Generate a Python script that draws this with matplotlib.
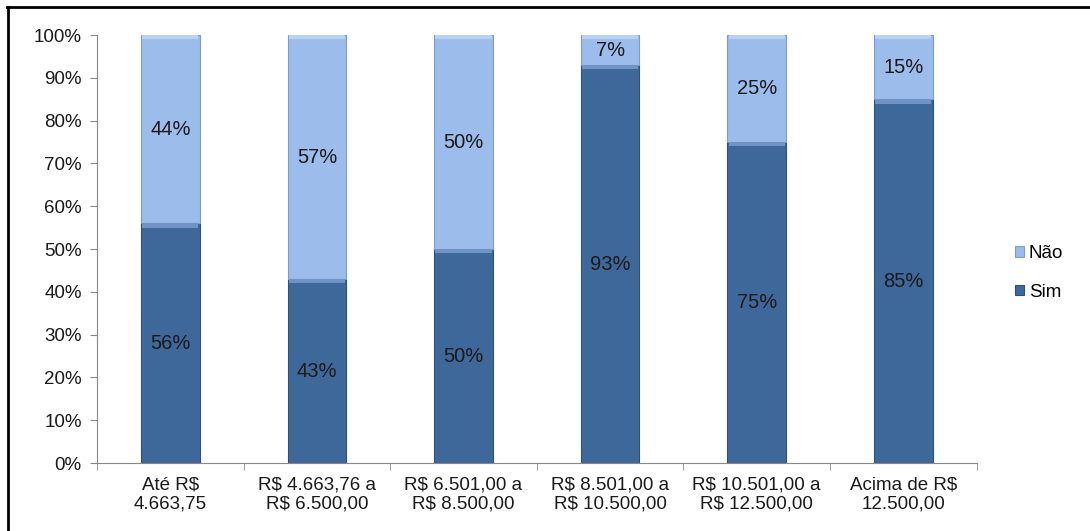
import matplotlib.pyplot as plt
from matplotlib.lines import Line2D
from matplotlib.ticker import FuncFormatter, FixedLocator

plt.rcParams['font.family'] = ['Liberation Sans', 'DejaVu Sans']

faixas = ['Até R$\n4.663,75', 'R$ 4.663,76 a\nR$ 6.500,00', 'R$ 6.501,00 a\nR$ 8.500,00',
          'R$ 8.501,00 a\nR$ 10.500,00', 'R$ 10.501,00 a\nR$ 12.500,00', 'Acima de R$\n12.500,00']
sim = [56, 43, 50, 93, 75, 85]
nao = [44, 57, 50, 7, 25, 15]

cor_sim = '#3F689A'
cor_nao = '#9CBDEB'

fig = plt.figure(figsize=(10.9, 5.31), dpi=100)
ax = fig.add_axes([0.089, 0.128, 0.807, 0.806])

x = range(len(faixas))
w = 0.4
b1 = ax.bar(x, sim, w, color=cor_sim, edgecolor='#2E4F78', linewidth=0.8, label='Sim')
b2 = ax.bar(x, nao, w, bottom=sim, color=cor_nao, edgecolor='#7C9CC8', linewidth=0.8, label='Não')

# faixa clara no topo de cada segmento (efeito chanfrado)
for i in x:
    ax.bar(i, 1.0, w * 0.96, bottom=sim[i] - 1.0, color='#6E93C4', linewidth=0)
    ax.bar(i, 1.0, w * 0.96, bottom=100 - 1.0, color='#B9D2F3', linewidth=0)

for i in x:
    ax.text(i, sim[i] / 2, f'{sim[i]}%', ha='center', va='center', fontsize=14.5, color='#1a1a1a')
    ax.text(i, sim[i] + nao[i] / 2, f'{nao[i]}%', ha='center', va='center', fontsize=14.5, color='#1a1a1a')

ax.set_xlim(-0.5, len(faixas) - 0.5)
ax.set_ylim(0, 100)
ax.set_yticks(range(0, 101, 10))
ax.yaxis.set_major_formatter(FuncFormatter(lambda v, p: f'{int(v)}%'))
ax.set_xticks(list(x))
ax.set_xticklabels(faixas, fontsize=13.5, color='#1a1a1a', linespacing=1.1)
ax.xaxis.set_minor_locator(FixedLocator([i - 0.5 for i in range(len(faixas) + 1)]))
ax.tick_params(axis='x', which='major', length=0, pad=10)
ax.tick_params(axis='x', which='minor', length=5, color='#888888')
ax.tick_params(axis='y', length=5, color='#888888', labelsize=13.5, labelcolor='#1a1a1a', pad=6)

for s in ['top', 'right']:
    ax.spines[s].set_visible(False)
ax.spines['left'].set_color('#888888')
ax.spines['bottom'].set_color('#888888')

ax.legend([b2, b1], ['Não', 'Sim'], loc='center left', bbox_to_anchor=(0.931, 0.486),
          bbox_transform=fig.transFigure, frameon=False, borderpad=0, borderaxespad=0,
          fontsize=13.5, handlelength=0.5, handleheight=0.5, labelspacing=1.15, handletextpad=0.25)

# moldura só à esquerda e no topo
fig.add_artist(Line2D([0.0077, 0.0077], [0.0, 0.986], transform=fig.transFigure, color='black', linewidth=2))
fig.add_artist(Line2D([0.0068, 1.0], [0.986, 0.986], transform=fig.transFigure, color='black', linewidth=2))

fig.savefig('out.png', dpi=100)
